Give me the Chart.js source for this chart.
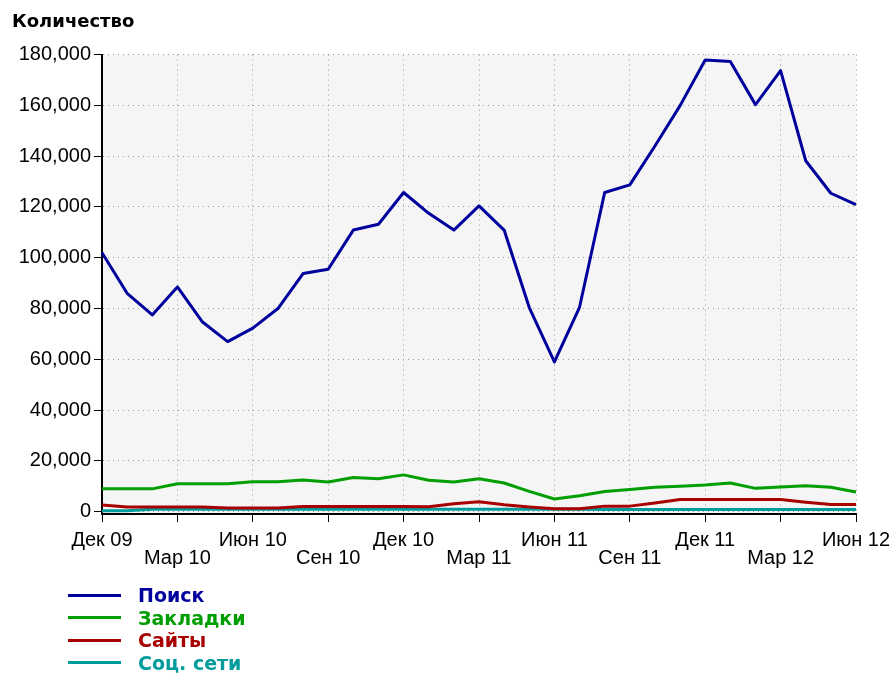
<!DOCTYPE html>
<html lang="ru">
<head>
<meta charset="utf-8">
<title>Количество</title>
<script src="https://cdn.jsdelivr.net/npm/chart.js@4.4.1/dist/chart.umd.min.js"></script>
<style>
    body { margin: 0; background: #fff; }
    .chart-box { position: relative; width: 892px; height: 673px; overflow: hidden; }
    #legend {
        position: absolute; left: 68px; top: 584px;
        margin: 0; padding: 0; list-style: none;
        font: bold 19px "DejaVu Sans", sans-serif;
    }
    #legend li { display: flex; align-items: center; height: 22.5px; }
    #legend .swatch { width: 53px; height: 3px; margin-right: 17px; }
</style>
</head>
<body>
<div class="chart-box">
    <canvas id="trafficChart"></canvas>
    <ul id="legend"></ul>
</div>
<script>
// Months, Dec 2009 .. Jun 2012
const months = [
    'Дек 09', 'Янв 10', 'Фев 10', 'Мар 10', 'Апр 10', 'Май 10', 'Июн 10',
    'Июл 10', 'Авг 10', 'Сен 10', 'Окт 10', 'Ноя 10', 'Дек 10', 'Янв 11',
    'Фев 11', 'Мар 11', 'Апр 11', 'Май 11', 'Июн 11', 'Июл 11', 'Авг 11',
    'Сен 11', 'Окт 11', 'Ноя 11', 'Дек 11', 'Янв 12', 'Фев 12', 'Мар 12',
    'Апр 12', 'Май 12', 'Июн 12'
];

const search = [
    102000, 86000, 77500, 88500, 74700, 67000, 72300, 80000, 93800, 95500,
    110900, 113200, 125700, 117500, 110900, 120400, 110900, 80400, 59000, 80500,
    125700, 128700, 144000, 159900, 177900, 177300, 160300, 173700, 138200, 125400,
    120900
];

const bookmarks = [
    9000, 9000, 9000, 11000, 11000, 11000, 11800, 11800, 12500, 11700,
    13500, 13000, 14500, 12400, 11700, 13000, 11300, 8000, 5000, 6300,
    8000, 8700, 9600, 10000, 10500, 11300, 9200, 9700, 10200, 9600,
    7800
];

const sites = [
    2600, 1900, 1900, 1900, 1900, 1450, 1450, 1450, 2100, 2100,
    2100, 2100, 2100, 2000, 3100, 3900, 2700, 1850, 1200, 1200,
    2200, 2200, 3400, 4800, 4800, 4800, 4800, 4800, 3700, 2800,
    2800
];

const social = [
    400, 400, 1000, 1000, 1000, 1000, 1000, 1000, 1000, 1000,
    1000, 1000, 1000, 1000, 1000, 1000, 1000, 1000, 1000, 1000,
    900, 900, 900, 900, 900, 900, 900, 900, 900, 900,
    900
];

const yTicks = [0, 20000, 40000, 60000, 80000, 100000, 120000, 140000, 160000, 180000];

// light grey plot background
const plotBackground = {
    id: 'plotBackground',
    beforeDraw(chart) {
        const { ctx, chartArea } = chart;
        ctx.save();
        ctx.fillStyle = '#f5f5f5';
        ctx.fillRect(chartArea.left, chartArea.top,
            chartArea.right - chartArea.left, chartArea.bottom - chartArea.top);
        ctx.restore();
    }
};

function series(label, data, color) {
    return {
        label: label,
        data: data,
        borderColor: color,
        backgroundColor: color,
        borderWidth: 3,
        borderJoinStyle: 'round',
        pointRadius: 0,
        tension: 0,
        fill: false
    };
}

const axisFont = { family: '"Liberation Sans", Arial, sans-serif', size: 20 };
const quarter = i => i % 3 === 0;

const chart = new Chart(document.getElementById('trafficChart'), {
    type: 'line',
    data: {
        labels: months,
        datasets: [
            series('Поиск', search, '#00009c'),
            series('Закладки', bookmarks, '#009e00'),
            series('Сайты', sites, '#a80000'),
            series('Соц. сети', social, '#009c9c')
        ]
    },
    options: {
        responsive: true,
        maintainAspectRatio: false,
        animation: false,
        layout: { padding: { left: 12, right: 36, top: 0, bottom: 0 } },
        plugins: {
            legend: { display: false },
            tooltip: { enabled: false },
            title: {
                display: true,
                text: 'Количество',
                align: 'start',
                color: '#000',
                font: { family: '"DejaVu Sans", sans-serif', size: 18, weight: 'bold' },
                padding: { top: 12, bottom: 21 }
            }
        },
        scales: {
            x: {
                grid: {
                    color: c => quarter(c.index) ? '#9a9a9a' : 'transparent',
                    tickColor: c => quarter(c.index) ? '#000' : 'transparent',
                    tickLength: 8,
                    lineWidth: 1
                },
                border: { color: '#000', width: 2, dash: [1, 4] },
                ticks: {
                    autoSkip: false,
                    maxRotation: 0,
                    padding: 10,
                    color: '#000',
                    font: Object.assign({ lineHeight: 0.875 }, axisFont),
                    callback: function(value, index) {
                        const label = this.getLabelForValue(value);
                        if (index % 6 === 0) return [label, ''];
                        if (index % 3 === 0) return ['', label];
                        return '';
                    }
                },
                afterFit: function(scale) {
                    scale.height = 159;
                    // last label may run off the edge, as in the original
                    scale.paddingLeft = 0;
                    scale.paddingRight = 0;
                }
            },
            y: {
                min: -900,
                max: 180000,
                grid: { color: '#9a9a9a', tickColor: '#000', tickLength: 8, lineWidth: 1 },
                border: { color: '#000', width: 2, dash: [1, 4] },
                ticks: {
                    padding: 3,
                    color: '#000',
                    font: axisFont,
                    callback: v => v.toLocaleString('en-US')
                },
                afterBuildTicks: function(scale) {
                    scale.ticks = yTicks.map(v => ({ value: v }));
                },
                afterFit: function(scale) { scale.width = 90; }
            }
        }
    },
    plugins: [plotBackground]
});

// legend built from the chart's datasets
const legend = document.getElementById('legend');
chart.data.datasets.forEach(ds => {
    const li = document.createElement('li');
    li.style.color = ds.borderColor;
    li.innerHTML = '<span class="swatch" style="background:' + ds.borderColor + '"></span>' + ds.label;
    legend.appendChild(li);
});
</script>
</body>
</html>
